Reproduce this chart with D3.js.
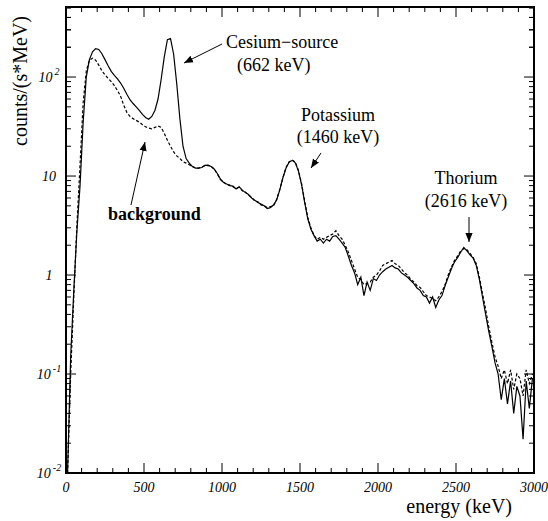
<!DOCTYPE html>
<html>
<head>
<meta charset="utf-8">
<script src="https://cdn.jsdelivr.net/npm/d3@7"></script>
<style>
  body { margin: 0; background: #fff; }
  text { font-family: "Liberation Serif", "Times New Roman", serif; fill: #000; }
</style>
</head>
<body>
<div id="chart"></div>
<script>
// Bin centres (keV), 20 keV wide bins
const binCenters = d3.range(10, 3000, 20);

// Cesium source + background (solid)
const sourceCounts = [
  0.004, 0.15, 0.7, 2.8, 8, 35, 100, 150, 180, 194,
  190, 172, 150, 130, 114, 104, 96, 87, 77, 67,
  59, 54, 50, 46, 42, 39, 37.5, 40, 46, 60,
  95, 160, 238, 245, 170, 85, 38, 20, 15, 13.5,
  12.5, 12, 12, 12.2, 12.8, 12.9, 12.5, 11.8, 10.6, 9.3,
  8.6, 8.3, 8.0, 7.9, 7.4, 7.8, 7.2, 6.8, 6.5, 6.0,
  5.7, 5.4, 5.2, 5.0, 4.7, 4.8, 5.1, 5.7, 7.2, 9.6,
  12.0, 13.8, 14.4, 13.6, 11.2, 8.2, 5.4, 3.7, 2.9, 2.5,
  2.2, 2.3, 2.1, 2.3, 2.2, 2.45, 2.5, 2.3, 2.1, 1.9,
  1.55, 1.25, 1.05, 0.8, 0.95, 0.62, 0.85, 0.7, 0.92, 0.88,
  1.0, 1.08, 1.15, 1.2, 1.25, 1.18, 1.15, 1.05, 1.0, 0.95,
  0.88, 0.82, 0.74, 0.7, 0.62, 0.6, 0.52, 0.6, 0.47, 0.56,
  0.62, 0.78, 0.95, 1.15, 1.35, 1.5, 1.7, 1.9, 1.75, 1.6,
  1.48, 1.25, 0.9, 0.6, 0.4, 0.27, 0.19, 0.13, 0.1, 0.055,
  0.09, 0.05, 0.085, 0.04, 0.075, 0.06, 0.022, 0.085, 0.045, 0.09
];

// background only (dashed)
const backgroundCounts = [
  0.004, 0.1, 0.6, 3.2, 13, 55, 115, 148, 155, 148,
  132, 116, 105, 97, 90, 82, 73, 64, 52, 44,
  40, 38, 36.5, 35, 33, 31.5, 30.5, 30, 31, 32,
  31, 27, 23, 20, 17.5, 16, 15, 14, 13.5, 13,
  12.5, 12.1, 12, 12.3, 12.7, 12.8, 12.6, 11.7, 10.5, 9.2,
  8.7, 8.2, 8.1, 7.8, 7.5, 7.7, 7.1, 6.9, 6.4, 6.1,
  5.6, 5.5, 5.1, 5.0, 4.8, 4.9, 5.0, 5.8, 7.3, 9.5,
  12.2, 13.9, 14.5, 13.8, 11.4, 8.4, 5.6, 3.8, 3.0, 2.5,
  2.3, 2.4, 2.3, 2.4, 2.5, 2.6, 2.8, 2.5, 2.3, 2.0,
  1.7, 1.4, 1.15, 0.95, 0.9, 0.8, 0.82, 0.85, 0.95, 1.0,
  1.1, 1.25, 1.3, 1.35, 1.4, 1.3, 1.25, 1.15, 1.05, 1.0,
  0.9, 0.85, 0.78, 0.75, 0.68, 0.62, 0.6, 0.58, 0.55, 0.6,
  0.68, 0.8, 1.0, 1.2, 1.4, 1.55, 1.75, 1.85, 1.8, 1.65,
  1.5, 1.3, 0.95, 0.65, 0.45, 0.3, 0.21, 0.15, 0.12, 0.09,
  0.11, 0.08, 0.11, 0.07, 0.1, 0.09, 0.06, 0.11, 0.08, 0.1
];

// axis ticks
const xMajorTicks = [0, 500, 1000, 1500, 2000, 2500, 3000];
const xMinorTicks = d3.range(0, 3001, 100);
const yDecades = [0.01, 0.1, 1, 10, 100];
const yLabels = [
  { v: 100, base: "10", sup: "2" },
  { v: 10, base: "10", sup: "" },
  { v: 1, base: "1", sup: "" },
  { v: 0.1, base: "10", sup: "-1" },
  { v: 0.01, base: "10", sup: "-2" }
];

const W = 548, H = 521;
const plot = { left: 66, right: 534, top: 7, bottom: 473 };

const svg = d3.select("#chart").append("svg")
    .attr("width", W)
    .attr("height", H);

const x = d3.scaleLinear().domain([0, 3000]).range([plot.left, plot.right]);
const y = d3.scaleLog().domain([0.01, 510]).range([plot.bottom, plot.top]).clamp(true);

// minor ticks for log axis: 2..9 per decade
const yMinorTicks = [];
yDecades.forEach(d => {
  for (let k = 2; k <= 9; k++) {
    const v = d * k;
    if (v <= 510) yMinorTicks.push(v);
  }
});
yMinorTicks.push(200, 300, 400, 500);

// clip region
svg.append("clipPath").attr("id", "clip")
  .append("rect")
  .attr("x", plot.left).attr("y", plot.top)
  .attr("width", plot.right - plot.left)
  .attr("height", plot.bottom - plot.top);

const line = d3.line()
    .x((d, i) => x(binCenters[i]))
    .y(d => y(d));

const curves = svg.append("g").attr("clip-path", "url(#clip)");

curves.append("path")
    .datum(backgroundCounts)
    .attr("d", line)
    .attr("fill", "none")
    .attr("stroke", "#000")
    .attr("stroke-width", 1.2)
    .attr("stroke-dasharray", "3,2");

curves.append("path")
    .datum(sourceCounts)
    .attr("d", line)
    .attr("fill", "none")
    .attr("stroke", "#000")
    .attr("stroke-width", 1.2);

// ticks
const ticks = svg.append("g").attr("stroke", "#000").attr("stroke-width", 1);

xMinorTicks.forEach(v => {
  const len = xMajorTicks.includes(v) ? 10 : 5;
  ticks.append("line").attr("x1", x(v)).attr("x2", x(v))
    .attr("y1", plot.bottom).attr("y2", plot.bottom - len);
  ticks.append("line").attr("x1", x(v)).attr("x2", x(v))
    .attr("y1", plot.top).attr("y2", plot.top + len);
});

yDecades.concat(yMinorTicks).forEach(v => {
  const len = yDecades.includes(v) ? 10 : 5;
  ticks.append("line").attr("x1", plot.left).attr("x2", plot.left + len)
    .attr("y1", y(v)).attr("y2", y(v));
  ticks.append("line").attr("x1", plot.right).attr("x2", plot.right - len)
    .attr("y1", y(v)).attr("y2", y(v));
});

// frame
svg.append("rect")
    .attr("x", plot.left).attr("y", plot.top)
    .attr("width", plot.right - plot.left)
    .attr("height", plot.bottom - plot.top)
    .attr("fill", "none")
    .attr("stroke", "#000")
    .attr("stroke-width", 2);

// x tick labels
svg.append("g").selectAll("text")
  .data(xMajorTicks)
  .enter().append("text")
    .attr("x", d => x(d))
    .attr("y", plot.bottom + 19)
    .attr("text-anchor", "middle")
    .style("font-style", "italic")
    .style("font-size", "14px")
    .text(d => d);

// y tick labels
const yl = svg.append("g").selectAll("text")
  .data(yLabels)
  .enter().append("text")
    .attr("x", 49)
    .attr("y", d => y(d.v) + 5)
    .attr("text-anchor", "middle")
    .style("font-style", "italic")
    .style("font-size", "14px");
yl.append("tspan").text(d => d.base);
yl.append("tspan")
    .attr("dx", 2)
    .attr("dy", -7)
    .style("font-size", "10px")
    .text(d => d.sup);

// axis titles
svg.append("text")
    .attr("x", 512)
    .attr("y", 513)
    .attr("text-anchor", "end")
    .style("font-size", "20px")
    .text("energy (keV)");

svg.append("text")
    .attr("transform", "translate(27,81) rotate(-90)")
    .attr("text-anchor", "middle")
    .style("font-size", "20px")
    .text("counts/(s*MeV)");

// annotations
svg.append("defs").append("marker")
    .attr("id", "arrow")
    .attr("viewBox", "0 0 10 10")
    .attr("refX", 10).attr("refY", 5)
    .attr("markerWidth", 9).attr("markerHeight", 9)
    .attr("markerUnits", "userSpaceOnUse")
    .attr("orient", "auto")
  .append("path")
    .attr("d", "M0,1 L10,5 L0,9 Z")
    .attr("fill", "#000");

const notes = [
  { text: "Cesium\u2212source", x: 226, y: 48, anchor: "start", bold: false },
  { text: "(662 keV)", x: 237, y: 71, anchor: "start", bold: false },
  { text: "Potassium", x: 338, y: 121, anchor: "middle", bold: false },
  { text: "(1460 keV)", x: 338, y: 143, anchor: "middle", bold: false },
  { text: "Thorium", x: 466, y: 184, anchor: "middle", bold: false },
  { text: "(2616 keV)", x: 466, y: 207, anchor: "middle", bold: false },
  { text: "background", x: 108, y: 220, anchor: "start", bold: true }
];

svg.append("g").selectAll("text")
  .data(notes)
  .enter().append("text")
    .attr("x", d => d.x)
    .attr("y", d => d.y)
    .attr("text-anchor", d => d.anchor)
    .style("font-size", "18px")
    .style("font-weight", d => d.bold ? "bold" : "normal")
    .text(d => d.text);

const arrows = [
  [222, 44, 184, 63],
  [321, 153, 311, 168],
  [469, 217, 469, 242],
  [131, 205, 145, 142]
];

svg.append("g").selectAll("line")
  .data(arrows)
  .enter().append("line")
    .attr("x1", d => d[0]).attr("y1", d => d[1])
    .attr("x2", d => d[2]).attr("y2", d => d[3])
    .attr("stroke", "#000")
    .attr("stroke-width", 1)
    .attr("marker-end", "url(#arrow)");
</script>
</body>
</html>
